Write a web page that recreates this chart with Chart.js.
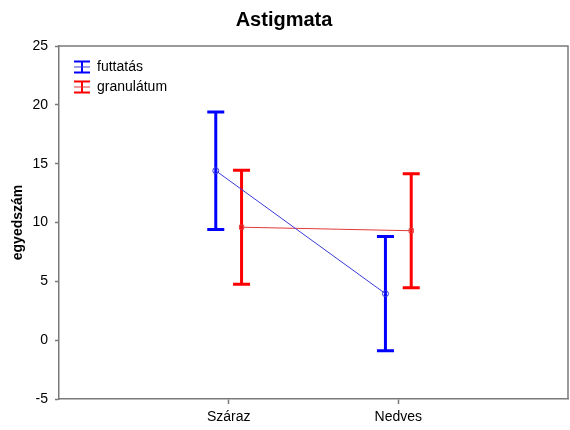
<!DOCTYPE html>
<html>
<head>
<meta charset="utf-8">
<script src="https://cdn.jsdelivr.net/npm/chart.js@4/dist/chart.umd.min.js"></script>
<style>
  html, body { margin: 0; padding: 0; background: #fff; }
  #wrap { width: 570px; height: 430px; }
</style>
</head>
<body>
<div id="wrap"><canvas id="chart" width="570" height="430"></canvas></div>
<script>
const categories = ['Száraz', 'Nedves'];
const seriesNames = ['futtatás', 'granulátum'];
const futtatasMean = [14.4, 3.95];
const futtatasErr = [5.0, 4.85];
const granulatumMean = [9.6, 9.3];
const granulatumErr = [4.85, 4.85];
const yTicks = [-5, 0, 5, 10, 15, 20, 25];

const BLUE = '#0000ff';
const RED = '#ff0000';
const SHIFT = 0.076; // little side step so the two bars don't overlap

Chart.defaults.font.family = 'Arial, "Liberation Sans", sans-serif';
Chart.defaults.color = '#000';

const series = [
  { name: seriesNames[0], mean: futtatasMean, err: futtatasErr, color: BLUE, line: '#3a3ad8', dx: -SHIFT, point: 'circle' },
  { name: seriesNames[1], mean: granulatumMean, err: granulatumErr, color: RED, line: '#e23a3a', dx: SHIFT, point: 'rect' }
];

// error bars: vertical + caps, drawn from the data through the scales
const errorBars = {
  id: 'errorBars',
  beforeDatasetsDraw(chart) {
    const { ctx, scales: { x, y } } = chart;
    ctx.save();
    series.forEach(s => {
      ctx.strokeStyle = s.color;
      ctx.lineWidth = 3;
      s.mean.forEach((m, i) => {
        const px = x.getPixelForValue(i + 1 + s.dx);
        const top = y.getPixelForValue(m + s.err[i]);
        const bot = y.getPixelForValue(m - s.err[i]);
        ctx.beginPath();
        ctx.moveTo(px, top); ctx.lineTo(px, bot);
        ctx.moveTo(px - 8.5, top); ctx.lineTo(px + 8.5, top);
        ctx.moveTo(px - 8.5, bot); ctx.lineTo(px + 8.5, bot);
        ctx.stroke();
      });
    });
    ctx.restore();
  }
};

// grey box round the plot + legend in the upper left corner
const frameAndLegend = {
  id: 'frameAndLegend',
  afterDraw(chart) {
    const { ctx, chartArea: a } = chart;
    ctx.save();
    ctx.strokeStyle = '#7a7a7a';
    ctx.lineWidth = 1.5;
    ctx.beginPath();
    ctx.moveTo(a.left, a.top); ctx.lineTo(a.right, a.top); ctx.lineTo(a.right, a.bottom);
    ctx.stroke();

    ctx.font = '14px Arial, "Liberation Sans", sans-serif';
    ctx.textBaseline = 'middle';
    series.forEach((s, k) => {
      const cx = 82, cy = 67 + k * 20;
      ctx.strokeStyle = s.color;
      ctx.lineWidth = 2;
      ctx.beginPath();
      ctx.moveTo(cx - 8, cy - 5.5); ctx.lineTo(cx + 8, cy - 5.5);
      ctx.moveTo(cx - 8, cy + 5.5); ctx.lineTo(cx + 8, cy + 5.5);
      ctx.moveTo(cx, cy - 5.5); ctx.lineTo(cx, cy + 5.5);
      ctx.stroke();
      ctx.lineWidth = 1;
      ctx.strokeStyle = s.line;
      ctx.beginPath();
      ctx.moveTo(cx - 8, cy); ctx.lineTo(cx + 8, cy);
      ctx.stroke();
      ctx.fillStyle = '#000';
      ctx.fillText(s.name, 97, cy);
    });
    ctx.restore();
  }
};

new Chart(document.getElementById('chart'), {
  type: 'scatter',
  data: {
    datasets: series.map(s => ({
      label: s.name,
      data: s.mean.map((m, i) => ({ x: i + 1 + s.dx, y: m })),
      showLine: true,
      borderColor: s.line,
      borderWidth: 1,
      pointStyle: s.point,
      pointRadius: 3,
      pointBorderWidth: 1,
      pointBorderColor: s.line,
      pointBackgroundColor: 'rgba(255,255,255,0)'
    }))
  },
  options: {
    responsive: false,
    animation: false,
    layout: { autoPadding: false, padding: { left: 0, right: 2, top: 0, bottom: 0 } },
    plugins: {
      legend: { display: false },
      tooltip: { enabled: false },
      title: {
        display: true,
        text: 'Astigmata',
        font: { size: 20, weight: 'bold' },
        color: '#000',
        padding: { top: 8, bottom: 14 }
      }
    },
    scales: {
      x: {
        type: 'linear',
        min: 0,
        max: categories.length + 1,
        afterBuildTicks: sc => { sc.ticks = categories.map((c, i) => ({ value: i + 1 })); },
        afterFit: sc => { sc.height = 31; },
        ticks: {
          callback: v => categories[v - 1],
          font: { size: 14 },
          color: '#000',
          padding: 5,
          maxRotation: 0
        },
        grid: { drawOnChartArea: false, tickLength: 5, color: '#7a7a7a', tickWidth: 1.5 },
        border: { color: '#7a7a7a', width: 1.5 }
      },
      y: {
        min: yTicks[0],
        max: yTicks[yTicks.length - 1],
        afterBuildTicks: sc => { sc.ticks = yTicks.map(v => ({ value: v })); },
        afterFit: sc => { sc.width = 59; },
        ticks: { font: { size: 14 }, color: '#000', padding: 7 },
        grid: { drawOnChartArea: false, tickLength: 4, color: '#7a7a7a', tickWidth: 1.5 },
        border: { color: '#7a7a7a', width: 1.5 },
        title: {
          display: true,
          text: 'egyedszám',
          font: { size: 14, weight: 'bold' },
          color: '#000',
          padding: { top: 10, bottom: 4 }
        }
      }
    }
  },
  plugins: [errorBars, frameAndLegend]
});
</script>
</body>
</html>
